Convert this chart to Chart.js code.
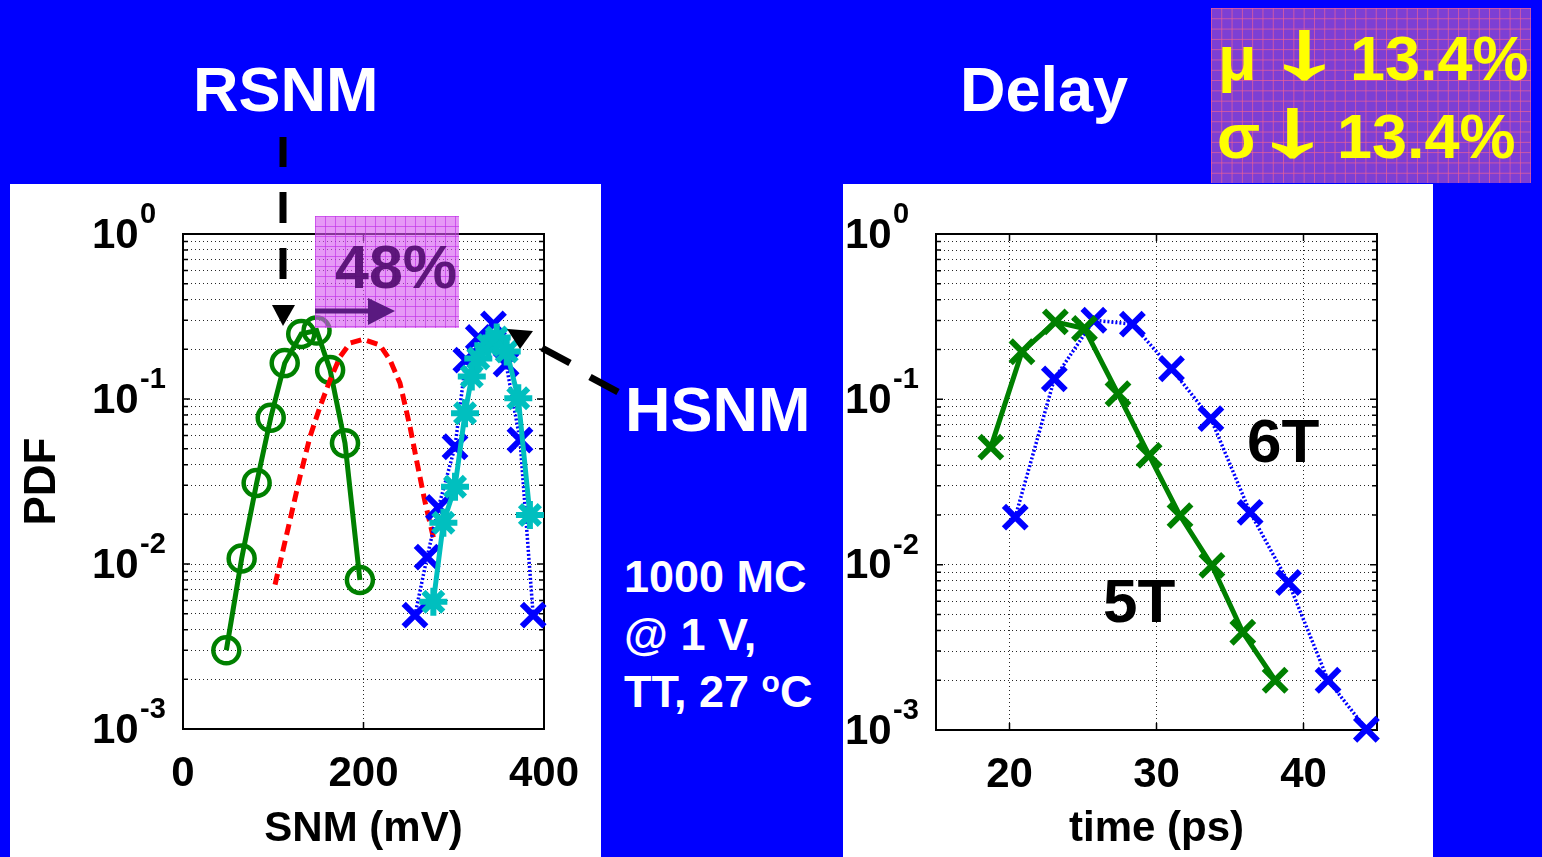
<!DOCTYPE html>
<html>
<head>
<meta charset="utf-8">
<script src="https://cdn.jsdelivr.net/npm/chart.js@4.4.1/dist/chart.umd.min.js"></script>
<style>
  html, body { margin: 0; padding: 0; }
  body { width: 1542px; height: 857px; background: #0000ff; position: relative; overflow: hidden;
         font-family: "Liberation Sans", Arial, sans-serif; font-weight: bold; }
  .panel { position: absolute; background: #fff; }
  .txt { position: absolute; line-height: 1; white-space: nowrap; }
  .arrow { font-size: 63px; transform-origin: 0 100%; transform: scale(2.5, 1.3);
           -webkit-text-stroke: 1.5px #ffff00; }
  #stats { position: absolute; left: 1211px; top: 8px; width: 320px; height: 175px;
           background-color: #7d3fd4;
           background-image: linear-gradient(rgba(235,95,150,0.75) 1px, transparent 1px),
                             linear-gradient(90deg, rgba(235,95,150,0.75) 1px, transparent 1px);
           background-size: 10.3px 10.3px; }
  #shift { position: absolute; left: 315px; top: 216px; width: 144px; height: 112px;
           background-color: rgba(214,90,240,0.62);
           background-image: linear-gradient(rgba(190,40,230,0.6) 1px, transparent 1px),
                             linear-gradient(90deg, rgba(190,40,230,0.6) 1px, transparent 1px);
           background-size: 10px 10px; }
  svg { position: absolute; left: 0; top: 0; }
</style>
</head>
<body>
<div class="panel" style="left:10px;top:184px;width:591px;height:673px;"><canvas id="snmChart"></canvas></div>
<div class="panel" style="left:843px;top:184px;width:590px;height:673px;"><canvas id="delayChart"></canvas></div>

<div class="txt" style="left:193px;top:58px;font-size:63px;color:#fff;">RSNM</div>
<div class="txt" style="left:960px;top:58px;font-size:63px;color:#fff;">Delay</div>
<div class="txt" style="left:625px;top:378px;font-size:63px;color:#fff;">HSNM</div>
<div class="txt" style="left:624px;top:554px;font-size:45px;color:#fff;">1000 MC</div>
<div class="txt" style="left:624px;top:612px;font-size:45px;color:#fff;">@ 1 V,</div>
<div class="txt" style="left:624px;top:669px;font-size:45px;color:#fff;">TT, 27 <span style="font-size:30px;position:relative;top:-15px;">o</span>C</div>

<div id="stats"></div>
<div class="txt" style="left:1218px;top:27px;font-size:63px;color:#ffff00;">μ</div>
<div class="txt arrow" style="left:1265px;top:27px;color:#ffff00;">↓</div>
<div class="txt" style="left:1350px;top:27px;font-size:63px;color:#ffff00;">13.4%</div>
<div class="txt" style="left:1217px;top:105px;font-size:63px;color:#ffff00;">σ</div>
<div class="txt arrow" style="left:1253px;top:105px;color:#ffff00;">↓</div>
<div class="txt" style="left:1337px;top:105px;font-size:63px;color:#ffff00;">13.4%</div>

<div class="txt" style="left:1247px;top:410px;font-size:62px;color:#000;">6T</div>
<div class="txt" style="left:1103px;top:570px;font-size:62px;color:#000;">5T</div>

<div id="shift"></div>
<div class="txt" style="left:335px;top:237px;font-size:61px;color:rgba(80,10,110,0.9);">48%</div>

<svg width="1542" height="857">
  <!-- shift arrow -->
  <line x1="315" y1="311" x2="372" y2="311" stroke="#5a1a80" stroke-width="5"/>
  <polygon points="368,298 395,311 368,325" fill="#5a1a80"/>
  <!-- RSNM pointer -->
  <line x1="283" y1="137" x2="283" y2="167" stroke="#000" stroke-width="7"/>
  <line x1="283" y1="192" x2="283" y2="223" stroke="#000" stroke-width="7"/>
  <line x1="283" y1="248" x2="283" y2="279" stroke="#000" stroke-width="7"/>
  <polygon points="272,305 295,305 283,326" fill="#000"/>
  <!-- HSNM pointer -->
  <line x1="542" y1="348" x2="570" y2="363" stroke="#000" stroke-width="7"/>
  <line x1="590" y1="377" x2="618" y2="392" stroke="#000" stroke-width="7"/>
  <polygon points="507,329 533,331 520,349" fill="#000"/>
</svg>

<script>
// ---- SNM panel (mV vs PDF) ----
const rsnmGreenX = [48, 65, 81.6, 97.2, 112.7, 131, 148, 163, 179.5, 196];
const rsnmGreenY = [0.003, 0.0108, 0.031, 0.077, 0.165, 0.248, 0.26, 0.15, 0.054, 0.008];

const rsnmRedX = [102, 118.6, 129.6, 140.7, 151.8, 162.9, 174, 185, 199.8, 218.3, 229.4, 240.4, 251.5, 259, 268, 277.4];
const rsnmRedY = [0.0075, 0.0185, 0.0338, 0.059, 0.0898, 0.13, 0.18, 0.218, 0.23, 0.212, 0.172, 0.125, 0.068, 0.042, 0.024, 0.0145];

const hsnmBlueX = [257, 270.5, 283, 301.4, 313.4, 327.2, 344, 358, 373.4, 388];
const hsnmBlueY = [0.0049, 0.011, 0.022, 0.0514, 0.172, 0.236, 0.285, 0.163, 0.0564, 0.0049];

const hsnmCyanX = [277.4, 288.5, 301.4, 312.5, 320, 327.2, 338.3, 347.6, 358.7, 371.5, 384.4];
const hsnmCyanY = [0.0059, 0.0178, 0.0294, 0.0819, 0.137, 0.176, 0.212, 0.236, 0.194, 0.101, 0.0198];

// ---- Delay panel (ps vs PDF) ----
const delay5TX = [18.73, 20.85, 23.12, 25.1, 27.38, 29.5, 31.6, 33.77, 35.87, 38.07];
const delay5TY = [0.0514, 0.194, 0.294, 0.268, 0.108, 0.0458, 0.0198, 0.0099, 0.0039, 0.002];

const delay6TX = [20.39, 23.05, 25.74, 28.36, 31.02, 33.7, 36.37, 38.98, 41.67, 44.28];
const delay6TY = [0.0194, 0.133, 0.301, 0.285, 0.153, 0.0764, 0.0207, 0.0078, 0.002, 0.00101];

// ---- axes ----
const snmTicks = [0, 200, 400];
const delayTicks = [20, 30, 40];
const yDecades = [0.001, 0.01, 0.1, 1];
const yMantissas = [1, 2, 3, 4, 5, 6, 7, 8, 9];

const FONT = '"Liberation Sans", Arial, sans-serif';
const yGrid = [];
yDecades.forEach(d => {
  yMantissas.forEach(m => {
    const v = +(d * m).toPrecision(3);
    if (v <= 1) yGrid.push(v);
  });
});

const pts = (xs, ys) => xs.map((x, i) => ({ x, y: ys[i] }));

// box, inward ticks and 10^n labels
const axesPlugin = {
  id: 'matlabAxes',
  beforeDatasetsDraw(chart) {
    const { ctx, chartArea: a, scales } = chart;
    ctx.save();
    ctx.strokeStyle = '#000';
    ctx.lineWidth = 1.5;
    ctx.beginPath();
    scales.y.ticks.forEach(t => {
      const y = scales.y.getPixelForValue(t.value);
      const len = yDecades.includes(t.value) ? 7 : 5;
      ctx.moveTo(a.left, y); ctx.lineTo(a.left + len, y);
      ctx.moveTo(a.right, y); ctx.lineTo(a.right - len, y);
    });
    scales.x.ticks.forEach(t => {
      const x = scales.x.getPixelForValue(t.value);
      ctx.moveTo(x, a.bottom); ctx.lineTo(x, a.bottom - 7);
      ctx.moveTo(x, a.top); ctx.lineTo(x, a.top + 7);
    });
    ctx.stroke();
    ctx.lineWidth = 2;
    ctx.strokeRect(a.left, a.top, a.right - a.left, a.bottom - a.top);
    ctx.restore();
  },
  afterDraw(chart) {
    const { ctx, chartArea: a, scales } = chart;
    ctx.save();
    ctx.fillStyle = '#000';
    ctx.textAlign = 'left';
    yDecades.forEach(v => {
      const y = scales.y.getPixelForValue(v);
      ctx.font = 'bold 42px ' + FONT;
      ctx.textBaseline = 'middle';
      ctx.fillText('10', a.left - 91, y + 2);
      ctx.font = 'bold 29px ' + FONT;
      ctx.textBaseline = 'alphabetic';
      ctx.fillText(String(Math.round(Math.log10(v))), a.left - 43, y - 11);
    });
    ctx.restore();
  }
};

function makeScales(xMin, xMax, xTicks, yWidth, xHeight, xTitle, yTitle) {
  return {
    x: {
      type: 'linear', min: xMin, max: xMax,
      afterBuildTicks: s => { s.ticks = xTicks.map(v => ({ value: v })); },
      afterFit: s => { s.height = xHeight; },
      grid: { color: 'rgba(0,0,0,0.85)', lineWidth: 1, drawTicks: false },
      border: { display: false, dash: [1, 3] },
      ticks: { color: '#000', padding: 20, font: { family: FONT, size: 42, weight: 'bold' } },
      title: { display: true, text: xTitle, color: '#000', padding: { top: 0, bottom: 2 },
               font: { family: FONT, size: 42, weight: 'bold' } }
    },
    y: {
      type: 'logarithmic', min: 0.001, max: 1,
      afterBuildTicks: s => { s.ticks = yGrid.map(v => ({ value: v })); },
      afterFit: s => { s.width = yWidth; },
      grid: { color: 'rgba(0,0,0,0.85)', lineWidth: 1, drawTicks: false },
      border: { display: false, dash: [1, 3] },
      ticks: { display: false },
      title: { display: !!yTitle, text: yTitle || '', color: '#000', padding: { top: 6, bottom: 0 },
               font: { family: FONT, size: 44, weight: 'bold' } }
    }
  };
}

const common = {
  responsive: true,
  maintainAspectRatio: false,
  animation: false,
  plugins: { legend: { display: false }, tooltip: { enabled: false } },
  elements: { line: { tension: 0 } }
};

new Chart(document.getElementById('snmChart'), {
  type: 'line',
  data: {
    datasets: [
      { data: pts(hsnmCyanX, hsnmCyanY), borderColor: '#00bfbf', backgroundColor: '#00bfbf',
        borderWidth: 5, pointStyle: 'star', pointRadius: 14, pointBorderWidth: 6, clip: false },
      { data: pts(hsnmBlueX, hsnmBlueY), borderColor: '#0000ff', backgroundColor: 'transparent',
        borderWidth: 3.5, borderDash: [2, 2], pointStyle: 'crossRot', pointRadius: 16,
        pointBorderWidth: 6, clip: false },
      { data: pts(rsnmRedX, rsnmRedY), borderColor: '#ff0000', borderWidth: 5, borderDash: [11, 6],
        pointRadius: 0, clip: false },
      { data: pts(rsnmGreenX, rsnmGreenY), borderColor: '#008000', backgroundColor: 'transparent',
        borderWidth: 5, pointStyle: 'circle', pointRadius: 13, pointBorderWidth: 4.5, clip: false }
    ]
  },
  options: {
    ...common,
    layout: { padding: { top: 50, right: 57, left: 0, bottom: 0 } },
    scales: makeScales(0, 400, snmTicks, 173, 128, 'SNM (mV)', 'PDF')
  },
  plugins: [axesPlugin]
});

new Chart(document.getElementById('delayChart'), {
  type: 'line',
  data: {
    datasets: [
      { data: pts(delay5TX, delay5TY), borderColor: '#008000', backgroundColor: 'transparent',
        borderWidth: 5, pointStyle: 'crossRot', pointRadius: 16, pointBorderWidth: 6, clip: false },
      { data: pts(delay6TX, delay6TY), borderColor: '#0000ff', backgroundColor: 'transparent',
        borderWidth: 3.5, borderDash: [2, 2], pointStyle: 'crossRot', pointRadius: 16,
        pointBorderWidth: 6, clip: false }
    ]
  },
  options: {
    ...common,
    layout: { padding: { top: 50, right: 56, left: 0, bottom: 0 } },
    scales: makeScales(15, 45, delayTicks, 93, 127, 'time (ps)', null)
  },
  plugins: [axesPlugin]
});
</script>
</body>
</html>
